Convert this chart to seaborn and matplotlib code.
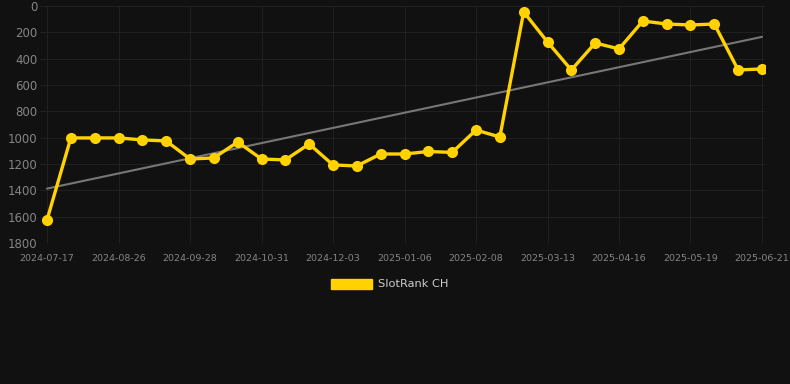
import numpy as np
import pandas as pd
import matplotlib
matplotlib.use("Agg")
import matplotlib.pyplot as plt
import matplotlib.patches as mpatches
import seaborn as sns

# ---- data ----
tick_labels = ["2024-07-17", "2024-08-26", "2024-09-28", "2024-10-31", "2024-12-03",
               "2025-01-06", "2025-02-08", "2025-03-13", "2025-04-16", "2025-05-19",
               "2025-06-21"]
ranks = [1625, 1002, 1002, 1002, 1017, 1025, 1162, 1154, 1033, 1162, 1169,
         1048, 1207, 1215, 1124, 1124, 1105, 1112, 942, 995, 45, 273, 486,
         281, 326, 114, 137, 144, 137, 486, 478]
series_name = "SlotRank CH"

idx = np.arange(len(ranks))
df = pd.DataFrame({"idx": idx, "rank": ranks})

sns.set_theme(style="dark")
bg = "#111111"
plt.rcParams["font.family"] = ["DejaVu Sans"]

fig = plt.figure(figsize=(7.9, 3.84), dpi=100, facecolor=bg)
ax = fig.add_axes([40/790, (384-243)/384, (765-40)/790, (243-6)/384])
ax.set_facecolor(bg)

# trend line
coef = np.polyfit(idx, ranks, 1)
trend = np.polyval(coef, idx[[0, -1]])
ax.plot(idx[[0, -1]], trend, color="#777777", lw=1.5, zorder=2)

sns.lineplot(data=df, x="idx", y="rank", ax=ax, color="#FFD200", lw=2.4,
             marker="o", markersize=8, markeredgewidth=0, zorder=3)

ax.set_ylim(1800, 0)
ax.set_xlim(-7/23.83, 30 + 3/23.83)
ax.set_yticks(np.arange(0, 1801, 200))
ax.set_xticks(idx[::3])
ax.set_xticklabels(tick_labels)
ax.tick_params(axis="y", colors="#858585", labelsize=8.5, length=0, pad=2)
ax.tick_params(axis="x", colors="#858585", labelsize=6.8, length=0, pad=8)
for lab in ax.get_yticklabels():
    lab.set_color("#858585")
for lab in ax.get_xticklabels():
    lab.set_color("#858585")
ax.grid(True, color="#202020", lw=0.8)
ax.set_xlabel("")
ax.set_ylabel("")
for s in ax.spines.values():
    s.set_visible(False)

handle = mpatches.Patch(color="#FFD200", label=series_name)
leg = fig.legend(handles=[handle], loc="center", bbox_to_anchor=(390/790, (384-284)/384),
                 frameon=False, fontsize=8.2, handlelength=3.6, handleheight=1.0,
                 handletextpad=0.5)
for t in leg.get_texts():
    t.set_color("#cccccc")

fig.savefig("out.png", dpi=100, facecolor=bg)
